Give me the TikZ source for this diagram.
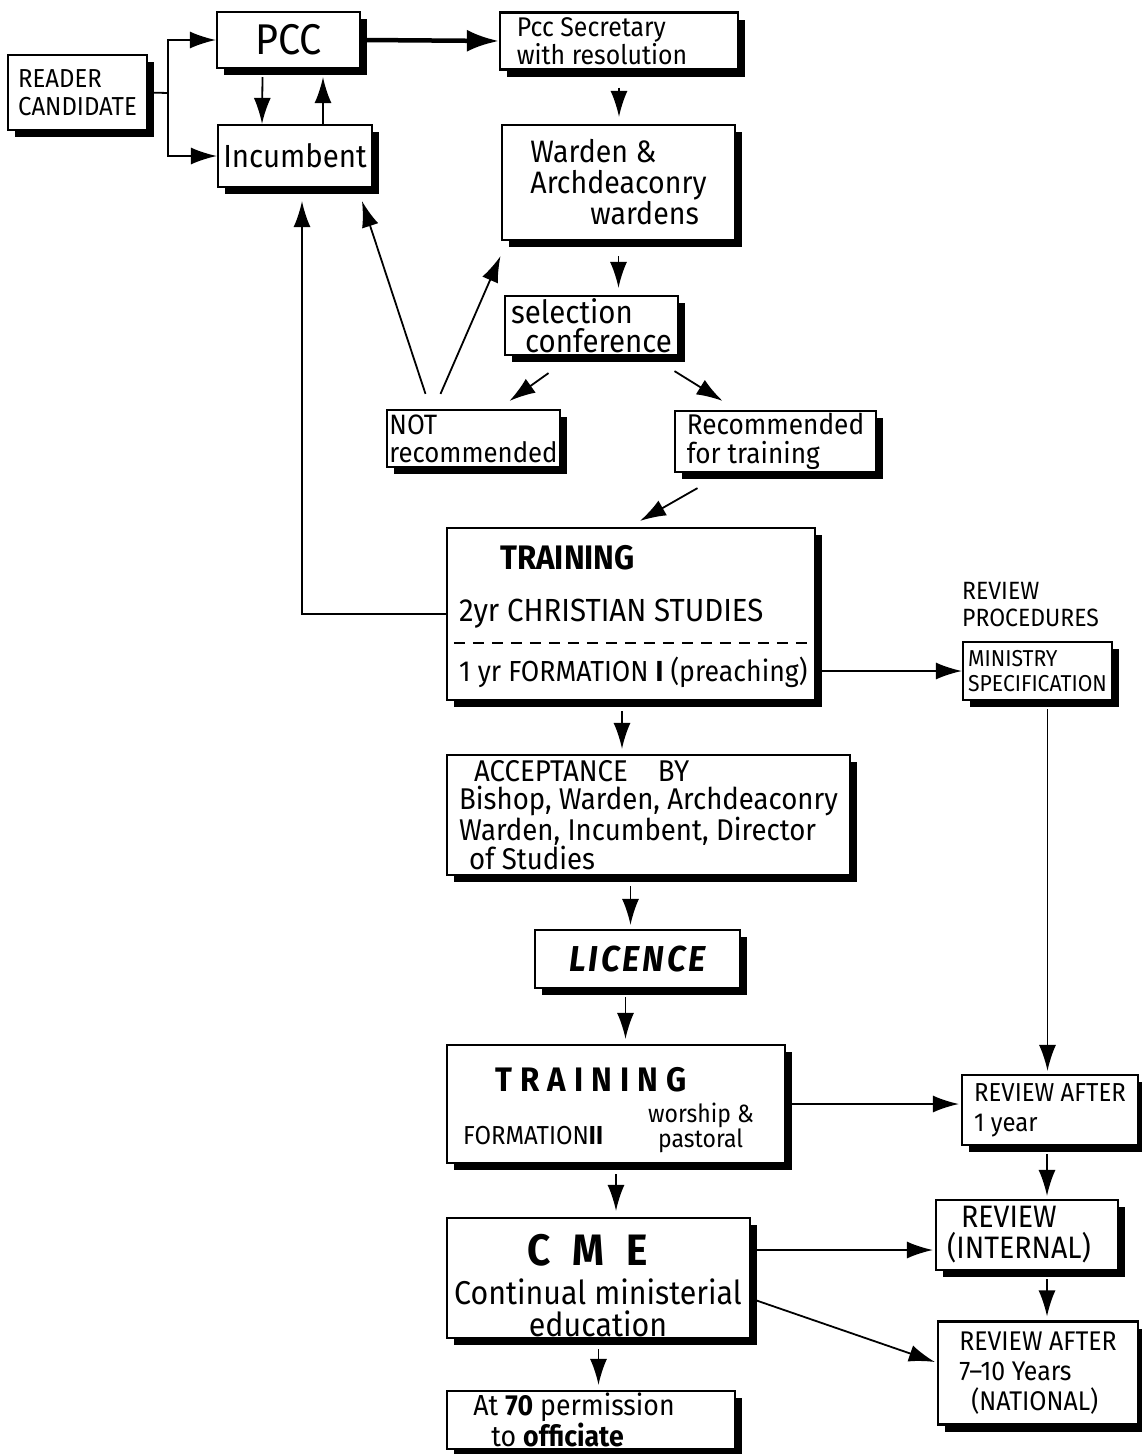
\documentclass[tikz,border=0pt]{standalone}
\usepackage{fontspec}
\setmainfont{Fira Sans}[FakeStretch=0.92]
\usetikzlibrary{arrows.meta,shadows}
\newcommand\sz[2]{\fontsize{#1}{#2}\selectfont}
\begin{document}
\begin{tikzpicture}[x=1pt,y=-1pt,
 box/.style={draw, line width=2.2pt, fill=white, inner sep=0pt,
   drop shadow={shadow xshift=7pt,shadow yshift=-7pt,opacity=1,fill=black}},
 lbox/.style={box, align=left},
 txt/.style={inner sep=0pt, align=left},
 arr/.style={-{Latex[length=26pt,width=17pt]}, line width=1.8pt},
 thickarr/.style={-{Latex[length=32pt,width=22pt]}, line width=4.5pt},
 plain/.style={line width=1.8pt},
 dashline/.style={dash pattern=on 11pt off 8pt, line width=1.6pt}]
\useasboundingbox (0,0) rectangle (1141,1454);

% boxes
\node[lbox, minimum width=139pt, minimum height=75pt, font=\sz{26}{28}] (reader) at (77.5,92.5) {READER\\CANDIDATE};
\node[box, minimum width=143pt, minimum height=56pt, font=\sz{43}{43}] (pcc) at (288.5,40) {PCC};
\node[box, minimum width=154pt, minimum height=62pt, font=\sz{32}{32}] (inc) at (295,156) {Incumbent};
\node[lbox, minimum width=238pt, minimum height=57pt, font=\sz{27}{25}] (sec) at (619,41) {Pcc Secretary\\with resolution\hspace*{34pt}};
\node[lbox, minimum width=233pt, minimum height=115pt, font=\sz{31}{31}] (warden) at (618.5,182.5) {Warden \&\\Archdeaconry\hspace*{26pt}\\\hspace*{60pt}wardens};
\node[lbox, minimum width=173pt, minimum height=59pt, font=\sz{32}{29}] (sel) at (591.5,325.5) {selection\\\hspace*{14pt}conference};
\node[lbox, minimum width=173pt, minimum height=57pt, font=\sz{28}{28}] (notrec) at (473.5,438.5) {NOT\\recommended};
\node[lbox, minimum width=201pt, minimum height=61pt, font=\sz{28.5}{28.5}] (rec) at (775.5,441.5) {Recommended\\for training};

\node[box, minimum width=368pt, minimum height=172pt] (train1) at (631,614) {};
\node[txt, anchor=west, font=\bfseries\sz{34}{34}] (t1a) at (500,558) {TRAINING};
\node[txt, anchor=west, font=\sz{32}{32}] (t1b) at (459,614) {2yr CHRISTIAN STUDIES};
\node[txt, anchor=west, font=\sz{29}{29}] (t1c) at (459,672) {1 yr FORMATION \textbf{I} (preaching)};
\draw[dashline] ([xshift=8pt,yshift=-29pt]train1.west) -- ([xshift=-6pt,yshift=-29pt]train1.east);

\node[txt, anchor=west, font=\sz{25}{27}] (proc) at (962,605) {REVIEW\\PROCEDURES};
\node[lbox, minimum width=149pt, minimum height=58pt, font=\sz{23}{25}] (min) at (1037.5,671) {MINISTRY\\SPECIFICATION};

\node[lbox, minimum width=403pt, minimum height=120pt, font=\sz{30}{28}] (accept) at (648.5,815) {\hspace*{15pt}ACCEPTANCE\quad BY\\Bishop, Warden, Archdeaconry\\Warden, Incumbent, Director\\\hspace*{10pt}of Studies};
\node[box, minimum width=205pt, minimum height=58pt, font=\bfseries\itshape\sz{36}{36}\addfontfeature{LetterSpace=8}] (lic) at (637.5,959) {LICENCE};

\node[box, minimum width=338pt, minimum height=118pt] (train2) at (616,1104) {};
\node[txt, anchor=west, font=\bfseries\sz{34}{34}\addfontfeature{LetterSpace=24}] (t2a) at (495,1080) {TRAINING};
\node[txt, anchor=west, font=\sz{26}{26}] (t2b) at (463,1136) {FORMATION\textbf{II}};
\node[txt, anchor=west, font=\sz{25}{22}] (t2c) at (648,1128) {worship \&\\\hspace*{10pt}pastoral};

\node[lbox, minimum width=176pt, minimum height=70pt, font=\sz{26}{30}] (rev1) at (1050,1110) {REVIEW AFTER\\1 year};

\node[box, minimum width=303pt, minimum height=120pt] (cme) at (598.5,1278) {};
\node[txt, anchor=west, font=\bfseries\sz{44}{44}] (c1) at (527,1250) {C\,\,\,M\,\,\,E};
\node[txt, font=\sz{33}{32}, align=center] (c2) at (598,1308) {Continual ministerial\\education};

\node[lbox, minimum width=182pt, minimum height=70pt, font=\sz{31}{31}] (revint) at (1027,1235) {\hspace*{14pt}REVIEW\\(INTERNAL)\hspace*{16pt}};
\node[lbox, minimum width=200pt, minimum height=103pt, font=\sz{27}{30}] (rev710) at (1038,1373) {REVIEW AFTER\\7–10 Years\\\hspace*{12pt}(NATIONAL)};
\node[lbox, minimum width=288pt, minimum height=58pt, font=\sz{29}{26}] (at70) at (591,1420) {At \textbf{70} permission\hspace*{34pt}\\\hspace*{18pt}to \textbf{officiate}};

% connectors
\coordinate (split) at (168,93);
\draw[plain] (reader.east) -- (split);
\draw[arr] (split) |- (pcc.west);
\draw[arr] (split) |- (inc.west);
\draw[arr] ([xshift=-26pt,yshift=-8pt]pcc.south) -- ([xshift=-33pt]inc.north);
\draw[arr] ([xshift=28pt]inc.north) -- ([xshift=34.5pt,yshift=-8pt]pcc.south);
\draw[thickarr] ([xshift=4pt]pcc.east) -- (sec.west);
\draw[arr] ([yshift=-17pt]sec.south) -- ([yshift=7pt]sec.south |- warden.north);
\draw[arr] ([yshift=-15pt]warden.south) -- ([yshift=7pt]warden.south |- sel.north);
\draw[arr] ([xshift=-43pt,yshift=-17pt]sel.south) -- ([xshift=36pt,yshift=8pt]notrec.north);
\draw[arr] ([xshift=83pt,yshift=-15pt]sel.south) -- ([xshift=-53pt,yshift=9pt]rec.north);
\draw[arr] ([xshift=-78pt,yshift=-15pt]rec.south) -- ([xshift=9pt,yshift=6pt]train1.north);
\draw[arr] ([xshift=-48pt,yshift=15pt]notrec.north) -- ([xshift=67pt,yshift=-13pt]inc.south);
\draw[arr] ([xshift=-33pt,yshift=15pt]notrec.north) -- ([xshift=-118pt,yshift=-15pt]warden.south);
\draw[arr] (train1.west) -| ([xshift=7pt,yshift=-13pt]inc.south);
\draw[arr] ([xshift=4pt]train1.east |- min.west) -- (min.west);
\draw[arr] ([xshift=-9pt,yshift=-10pt]train1.south) -- ([xshift=-9pt,yshift=5pt]train1.south |- accept.north);
\draw[arr] ([xshift=-18pt,yshift=-10pt]accept.south) -- ([xshift=-18pt,yshift=4pt]accept.south |- lic.north);
\draw[arr] ([xshift=-12pt,yshift=-8pt]lic.south) -- ([xshift=-12pt,yshift=5pt]lic.south |- train2.north);
\draw[arr] ([xshift=10pt,yshift=-8pt]min.south) -- ([xshift=10pt,yshift=3pt]min.south |- rev1.north);
\draw[arr] ([xshift=4pt]train2.east) -- ([xshift=-2pt]train2.east -| rev1.west);
\draw[arr] ([yshift=-10pt]train2.south) -- ([yshift=6pt]train2.south |- cme.north);
\draw[arr] ([xshift=-3pt,yshift=-8pt]rev1.south) -- ([xshift=-3pt,yshift=3pt]rev1.south |- revint.north);
\draw[arr] ([xshift=4pt,yshift=28pt]cme.east) -- ([xshift=-2pt,yshift=28pt]cme.east -| revint.west);
\draw[arr] ([xshift=4pt,yshift=-22pt]cme.east) -- ([xshift=-2pt,yshift=11pt]rev710.west);
\draw[arr] ([xshift=20pt,yshift=-8pt]revint.south) -- ([xshift=20pt,yshift=4pt]revint.south |- rev710.north);
\draw[arr] ([yshift=-10pt]cme.south) -- ([yshift=5pt]cme.south |- at70.north);
\end{tikzpicture}
\end{document}
